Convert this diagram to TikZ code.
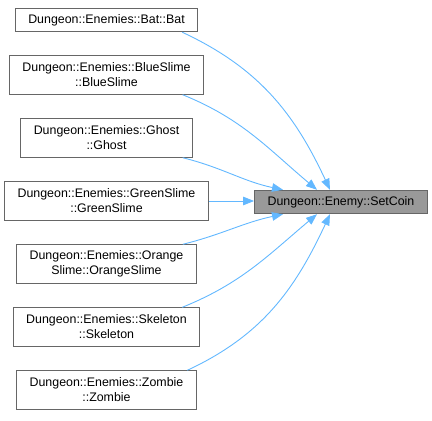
\documentclass[tikz,border=0pt]{standalone}
\usepackage{fontspec}
\setmainfont{Liberation Sans}
\usetikzlibrary{arrows.meta}
\definecolor{edgeblue}{HTML}{63B8FF}
\definecolor{boxgray}{HTML}{666666}
\definecolor{hlfill}{HTML}{999999}
\begin{document}
\begin{tikzpicture}[x=1pt,y=1pt,line width=0.9pt,
  >={Triangle[length=11pt,width=8.5pt]},
  cls/.style={draw=boxgray,fill=white,font=\fontsize{12.4}{15}\selectfont,
              align=center,inner xsep=13pt,inner ysep=0pt},
  oneline/.style={cls,minimum height=23.5pt},
  twoline/.style={cls,minimum height=38.5pt},
  hl/.style={oneline,fill=hlfill},
  call/.style={->,draw=edgeblue}]
\useasboundingbox (0,0) rectangle (432,421);
% ---------- callee ----------
\node[hl] (sc) at (341,219) {Dungeon::Enemy::SetCoin};
% ---------- callers (column centre x=106.5, pitch 63) ----------
\node[oneline] (bat)   at (106.5,401) {Dungeon::Enemies::Bat::Bat};
\node[twoline] (blue)  at (106.5,346) {Dungeon::Enemies::BlueSlime\\::BlueSlime};
\node[twoline] (ghost) at (106.5,283) {Dungeon::Enemies::Ghost\\::Ghost};
\node[twoline] (green) at (106.5,220) {Dungeon::Enemies::GreenSlime\\::GreenSlime};
\node[twoline] (orange) at (106.5,157) {Dungeon::Enemies::Orange\\Slime::OrangeSlime};
\node[twoline] (skel)  at (106.5,94) {Dungeon::Enemies::Skeleton\\::Skeleton};
\node[twoline] (zomb)  at (106.5,31) {Dungeon::Enemies::Zombie\\::Zombie};
% ---------- calls ----------
% upper fan lands on sc.north, lower fan on sc.south
\draw[call] ([xshift=-16pt]bat.south east) to[out=-25,in=115] ([xshift=-11pt]sc.north);
\draw[call] ([xshift=-21.5pt]blue.south east) to[out=-22,in=140] ([xshift=-24pt]sc.north);
\draw[call] ([xshift=-10pt]ghost.south east) to[out=-14,in=168] ([xshift=-58pt]sc.north);
\draw[call] (green.east) -- (green.east -| sc.west);
\draw[call] ([xshift=-14pt]orange.north east) to[out=14,in=-168] ([xshift=-58pt]sc.south);
\draw[call] ([xshift=-18pt]skel.north east) to[out=22,in=-140] ([xshift=-24pt]sc.south);
\draw[call] ([xshift=-9.5pt]zomb.north east) to[out=25,in=-115] ([xshift=-11pt]sc.south);
\end{tikzpicture}
\end{document}
